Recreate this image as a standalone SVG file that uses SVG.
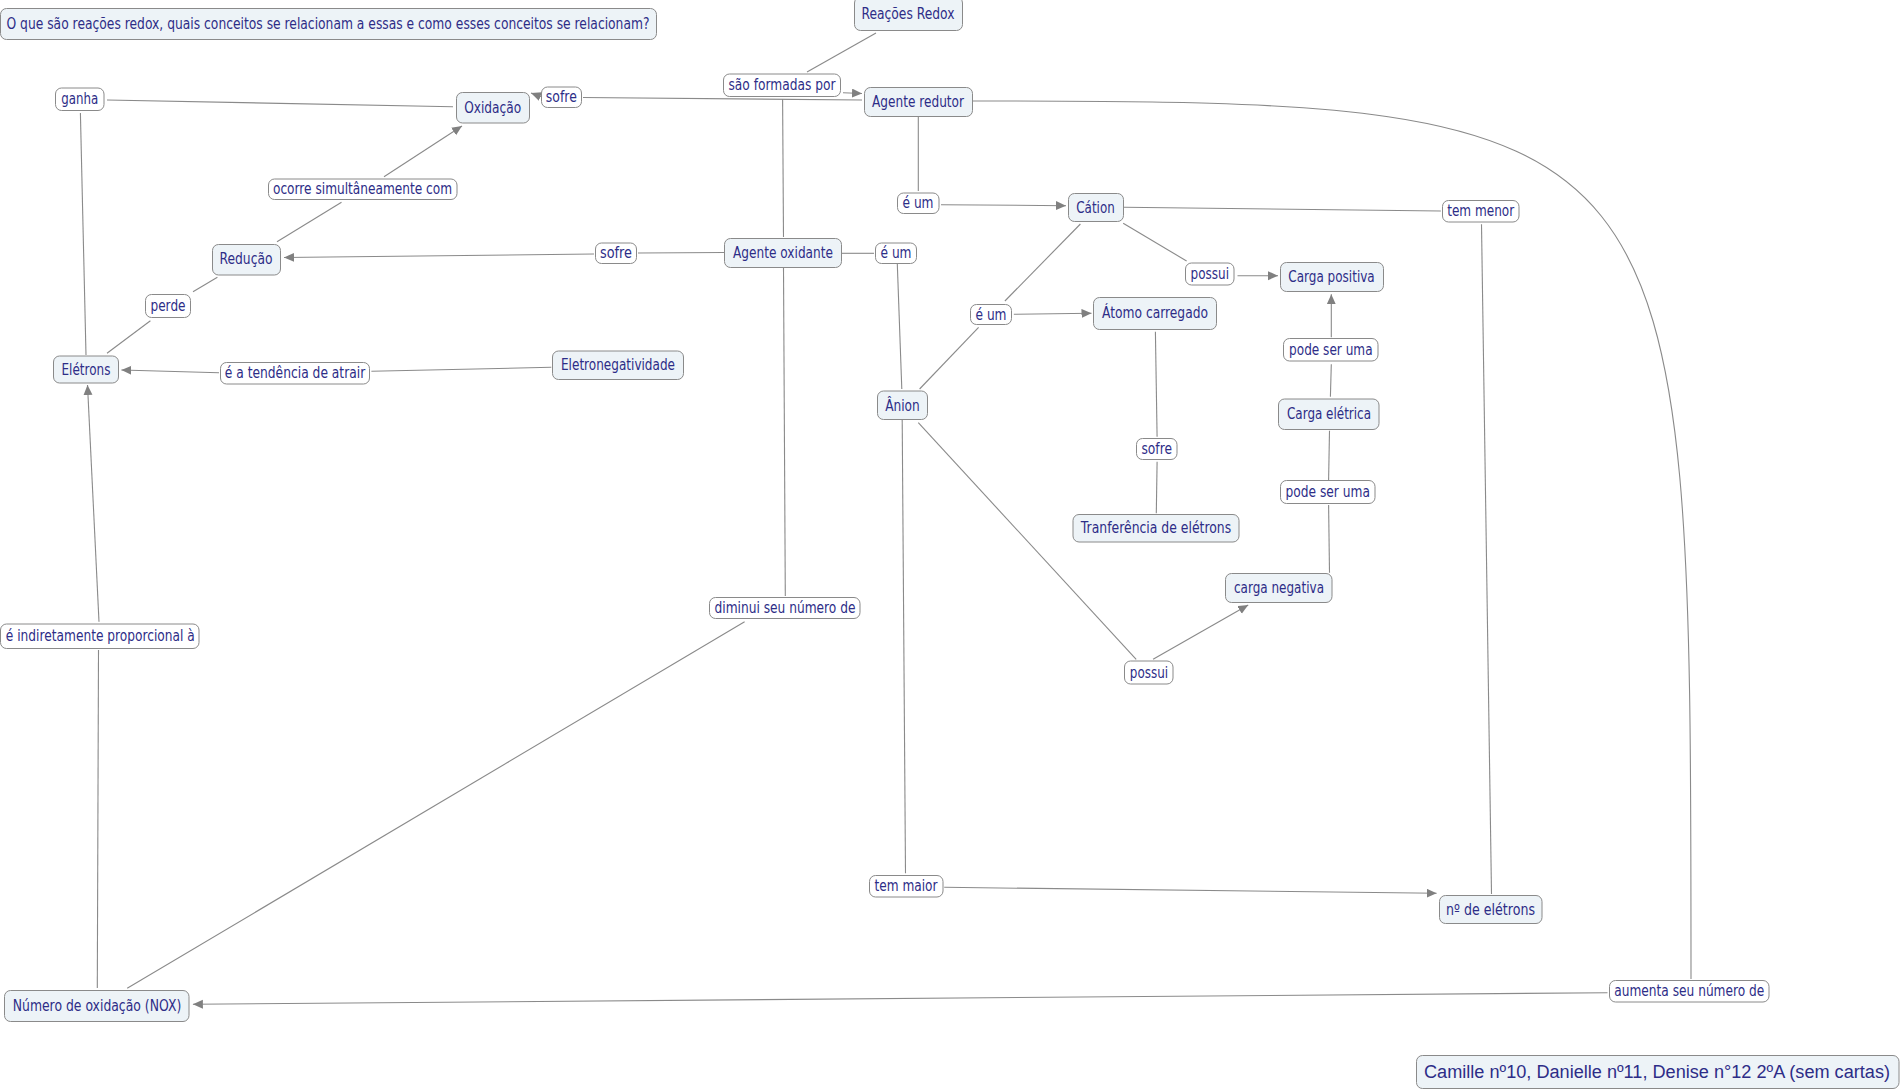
<svg xmlns="http://www.w3.org/2000/svg" width="1903" height="1092" viewBox="0 0 1903 1092">
<defs>
<marker id="arr" markerUnits="userSpaceOnUse" markerWidth="11" markerHeight="10" refX="10" refY="4.5" orient="auto"><path d="M0,0 L10,4.5 L0,9 z" fill="#808080"/></marker>
<style>
.c rect{fill:#edf3f7;stroke:#8a8a8a;stroke-width:1}
.l rect{fill:#ffffff;stroke:#8a8a8a;stroke-width:1}
text{font-family:"DejaVu Sans",Verdana,sans-serif;font-size:15px;fill:#2d2d87;text-anchor:middle;dominant-baseline:central}
.big{font-family:"Liberation Sans",Arial,sans-serif;font-size:18px}
#connectors path{fill:none;stroke:#8a8a8a;stroke-width:1.1}
#connectors .a{marker-end:url(#arr)}
</style>
</defs>
<rect x="0" y="0" width="1903" height="1092" fill="#ffffff"/>
<g id="connectors">
<path d="M876,33 L807,72"/>
<path class="a" d="M843,92.7 L862,93.5"/>
<path d="M782.6,99 L783.5,237"/>
<path d="M862,100 L583,97.5"/>
<path class="a" d="M542,97 L531,93"/>
<path d="M107,100 L453,106.7"/>
<path d="M80.4,113 L86,355"/>
<path class="a" d="M384,176.7 L462,126"/>
<path d="M277,241.7 L341.5,202.3"/>
<path d="M724.5,252.5 L638,253"/>
<path class="a" d="M594,254 L284,257.5"/>
<path d="M217.4,277.3 L193,291.7"/>
<path d="M150.4,320.7 L107,353.3"/>
<path d="M551.3,367.3 L371.4,371.3"/>
<path class="a" d="M219,372.7 L121.4,370"/>
<path class="a" d="M99,621.7 L87.5,385"/>
<path d="M97.3,988 L98.5,650"/>
<path d="M744.6,621.7 L127.2,988.3"/>
<path d="M783.5,268 L785.3,596"/>
<path d="M842,253.3 L874,253.3"/>
<path d="M897.3,264 L901.8,389"/>
<path d="M918.3,117 L918.3,191"/>
<path class="a" d="M941,204.7 L1066,205.7"/>
<path d="M1080.4,224 L1004.9,301"/>
<path class="a" d="M1013.8,314.3 L1091.5,313.3"/>
<path d="M919.6,389 L978.6,327.3"/>
<path d="M1123.2,223.3 L1186.6,261"/>
<path class="a" d="M1237.5,275.7 L1278,275.7"/>
<path d="M1124,207.3 L1440.8,211"/>
<path d="M1481.5,224.3 L1491.5,894"/>
<path class="a" d="M944.2,887.3 L1436.6,893.3"/>
<path d="M902.2,420 L905.5,873.3"/>
<path d="M918.3,422.7 L1136.2,659.3"/>
<path class="a" d="M1153.1,659.3 L1248.2,605"/>
<path d="M1329.5,572.7 L1328.6,505"/>
<path d="M1328.6,480 L1329.5,430.7"/>
<path d="M1330.4,396.7 L1331.3,364.3"/>
<path class="a" d="M1331.3,337.3 L1331.3,294.3"/>
<path d="M1155.4,331.7 L1157.1,436.7"/>
<path d="M1157.1,461.7 L1156.3,513.3"/>
<path d="M973,101 C1691,101 1691,115 1691,979"/>
<path class="a" d="M1607.5,992.7 L192.9,1004.3"/>
</g>
<g id="n-title" class="c"><rect x="0.5" y="8.5" width="656" height="31" rx="6"/><text x="328" y="24" textLength="643" lengthAdjust="spacingAndGlyphs">O que são reações redox, quais conceitos se relacionam a essas e como esses conceitos se relacionam?</text></g>
<g id="n-redox" class="c"><rect x="854.5" y="-3" width="108" height="33.5" rx="6"/><text x="908" y="14" textLength="93" lengthAdjust="spacingAndGlyphs">Reações Redox</text></g>
<g id="n-oxidacao" class="c"><rect x="456.5" y="92.5" width="73" height="30.5" rx="6"/><text x="492.7" y="107.5" textLength="57" lengthAdjust="spacingAndGlyphs">Oxidação</text></g>
<g id="n-reducao" class="c"><rect x="212.5" y="244.5" width="68" height="30.5" rx="6"/><text x="246" y="259" textLength="53" lengthAdjust="spacingAndGlyphs">Redução</text></g>
<g id="n-redutor" class="c"><rect x="864.5" y="87.5" width="108" height="29" rx="6"/><text x="918" y="101.5" textLength="92" lengthAdjust="spacingAndGlyphs">Agente redutor</text></g>
<g id="n-cation" class="c"><rect x="1068.5" y="193.5" width="55" height="28" rx="6"/><text x="1095.5" y="207.5" textLength="38.5" lengthAdjust="spacingAndGlyphs">Cátion</text></g>
<g id="n-oxidante" class="c"><rect x="724.5" y="238.5" width="117" height="29" rx="6"/><text x="783" y="252.5" textLength="100" lengthAdjust="spacingAndGlyphs">Agente oxidante</text></g>
<g id="n-cargapos" class="c"><rect x="1280.5" y="262.5" width="103" height="29" rx="6"/><text x="1331.5" y="276.5" textLength="86.5" lengthAdjust="spacingAndGlyphs">Carga positiva</text></g>
<g id="n-atomo" class="c"><rect x="1093.5" y="297.5" width="123" height="32" rx="6"/><text x="1155" y="313" textLength="106" lengthAdjust="spacingAndGlyphs">Átomo carregado</text></g>
<g id="n-anion" class="c"><rect x="877.5" y="391" width="50" height="28.5" rx="6"/><text x="902.5" y="405.5" textLength="34.6" lengthAdjust="spacingAndGlyphs">Ânion</text></g>
<g id="n-cargaele" class="c"><rect x="1278.5" y="399" width="100.5" height="30.5" rx="6"/><text x="1329" y="414" textLength="84" lengthAdjust="spacingAndGlyphs">Carga elétrica</text></g>
<g id="n-transf" class="c"><rect x="1073" y="514.5" width="166" height="27.5" rx="6"/><text x="1156" y="528" textLength="150.4" lengthAdjust="spacingAndGlyphs">Tranferência de elétrons</text></g>
<g id="n-carganeg" class="c"><rect x="1225.5" y="573.5" width="106.5" height="29" rx="6"/><text x="1279" y="587.5" textLength="90" lengthAdjust="spacingAndGlyphs">carga negativa</text></g>
<g id="n-eletrons" class="c"><rect x="53.5" y="356" width="65" height="27" rx="6"/><text x="86" y="369.5" textLength="49" lengthAdjust="spacingAndGlyphs">Elétrons</text></g>
<g id="n-eletroneg" class="c"><rect x="552.5" y="351" width="131" height="28.5" rx="6"/><text x="618" y="365" textLength="114" lengthAdjust="spacingAndGlyphs">Eletronegatividade</text></g>
<g id="n-nox" class="c"><rect x="4.5" y="990.5" width="184.5" height="31" rx="6"/><text x="97" y="1006" textLength="168.5" lengthAdjust="spacingAndGlyphs">Número de oxidação (NOX)</text></g>
<g id="n-neletrons" class="c"><rect x="1439.5" y="895.5" width="102.5" height="28" rx="6"/><text x="1490.5" y="909.5" textLength="89" lengthAdjust="spacingAndGlyphs">nº de elétrons</text></g>
<g id="n-autores" class="c"><rect x="1416.5" y="1055.5" width="482.5" height="33" rx="6"/><text class="big" x="1657" y="1072" textLength="466" lengthAdjust="spacingAndGlyphs">Camille nº10, Danielle nº11, Denise n°12 2ºA (sem cartas)</text></g>
<g id="l-ganha" class="l"><rect x="55.5" y="88" width="48.5" height="22.5" rx="6"/><text x="79.7" y="99.3" textLength="37" lengthAdjust="spacingAndGlyphs">ganha</text></g>
<g id="l-sofre1" class="l"><rect x="541.5" y="87" width="40" height="20.5" rx="6"/><text x="561.3" y="97.3" textLength="31" lengthAdjust="spacingAndGlyphs">sofre</text></g>
<g id="l-ocorre" class="l"><rect x="268.5" y="179" width="188.5" height="20.5" rx="6"/><text x="362.5" y="189.3" textLength="179" lengthAdjust="spacingAndGlyphs">ocorre simultâneamente com</text></g>
<g id="l-sofre2" class="l"><rect x="595.5" y="243" width="41" height="20.5" rx="6"/><text x="616" y="253.3" textLength="32" lengthAdjust="spacingAndGlyphs">sofre</text></g>
<g id="l-formadas" class="l"><rect x="723.5" y="74" width="117" height="22.5" rx="6"/><text x="782" y="85.3" textLength="107" lengthAdjust="spacingAndGlyphs">são formadas por</text></g>
<g id="l-eum1" class="l"><rect x="897.5" y="193" width="41.5" height="20.5" rx="6"/><text x="918" y="203.3" textLength="31" lengthAdjust="spacingAndGlyphs">é um</text></g>
<g id="l-eum2" class="l"><rect x="875.5" y="243" width="41" height="20.5" rx="6"/><text x="896" y="253.3" textLength="31" lengthAdjust="spacingAndGlyphs">é um</text></g>
<g id="l-possui1" class="l"><rect x="1185.5" y="263" width="48.5" height="22" rx="6"/><text x="1209.8" y="274" textLength="38.5" lengthAdjust="spacingAndGlyphs">possui</text></g>
<g id="l-menor" class="l"><rect x="1442.5" y="200.5" width="76.5" height="21.5" rx="6"/><text x="1480.7" y="211.3" textLength="67" lengthAdjust="spacingAndGlyphs">tem menor</text></g>
<g id="l-pode1" class="l"><rect x="1283.5" y="338.5" width="94.5" height="22.5" rx="6"/><text x="1330.8" y="349.7" textLength="83.5" lengthAdjust="spacingAndGlyphs">pode ser uma</text></g>
<g id="l-eum3" class="l"><rect x="970.5" y="304.5" width="41" height="20" rx="6"/><text x="991" y="314.5" textLength="31" lengthAdjust="spacingAndGlyphs">é um</text></g>
<g id="l-perde" class="l"><rect x="145.5" y="294.5" width="45" height="23" rx="6"/><text x="168" y="306" textLength="35" lengthAdjust="spacingAndGlyphs">perde</text></g>
<g id="l-tendencia" class="l"><rect x="220.5" y="362.5" width="149" height="21.5" rx="6"/><text x="295" y="373.3" textLength="140.5" lengthAdjust="spacingAndGlyphs">é a tendência de atrair</text></g>
<g id="l-sofre3" class="l"><rect x="1136.5" y="438.5" width="40.5" height="21" rx="6"/><text x="1156.7" y="449" textLength="30.5" lengthAdjust="spacingAndGlyphs">sofre</text></g>
<g id="l-pode2" class="l"><rect x="1280.5" y="480.5" width="94.5" height="23" rx="6"/><text x="1327.7" y="492" textLength="84.4" lengthAdjust="spacingAndGlyphs">pode ser uma</text></g>
<g id="l-diminui" class="l"><rect x="709.5" y="597.5" width="150.5" height="21" rx="6"/><text x="785" y="608" textLength="141" lengthAdjust="spacingAndGlyphs">diminui seu número de</text></g>
<g id="l-possui2" class="l"><rect x="1124.5" y="661" width="48.5" height="23" rx="6"/><text x="1149" y="672.5" textLength="38.3" lengthAdjust="spacingAndGlyphs">possui</text></g>
<g id="l-indiret" class="l"><rect x="0.5" y="624" width="198.5" height="24.5" rx="6"/><text x="100.3" y="636.3" textLength="189" lengthAdjust="spacingAndGlyphs">é indiretamente proporcional à</text></g>
<g id="l-maior" class="l"><rect x="869.5" y="875.5" width="73.5" height="21.5" rx="6"/><text x="906" y="886.3" textLength="63" lengthAdjust="spacingAndGlyphs">tem maior</text></g>
<g id="l-aumenta" class="l"><rect x="1609.5" y="980.5" width="159.5" height="21.5" rx="6"/><text x="1689.3" y="991.3" textLength="150" lengthAdjust="spacingAndGlyphs">aumenta seu número de</text></g>
</svg>
